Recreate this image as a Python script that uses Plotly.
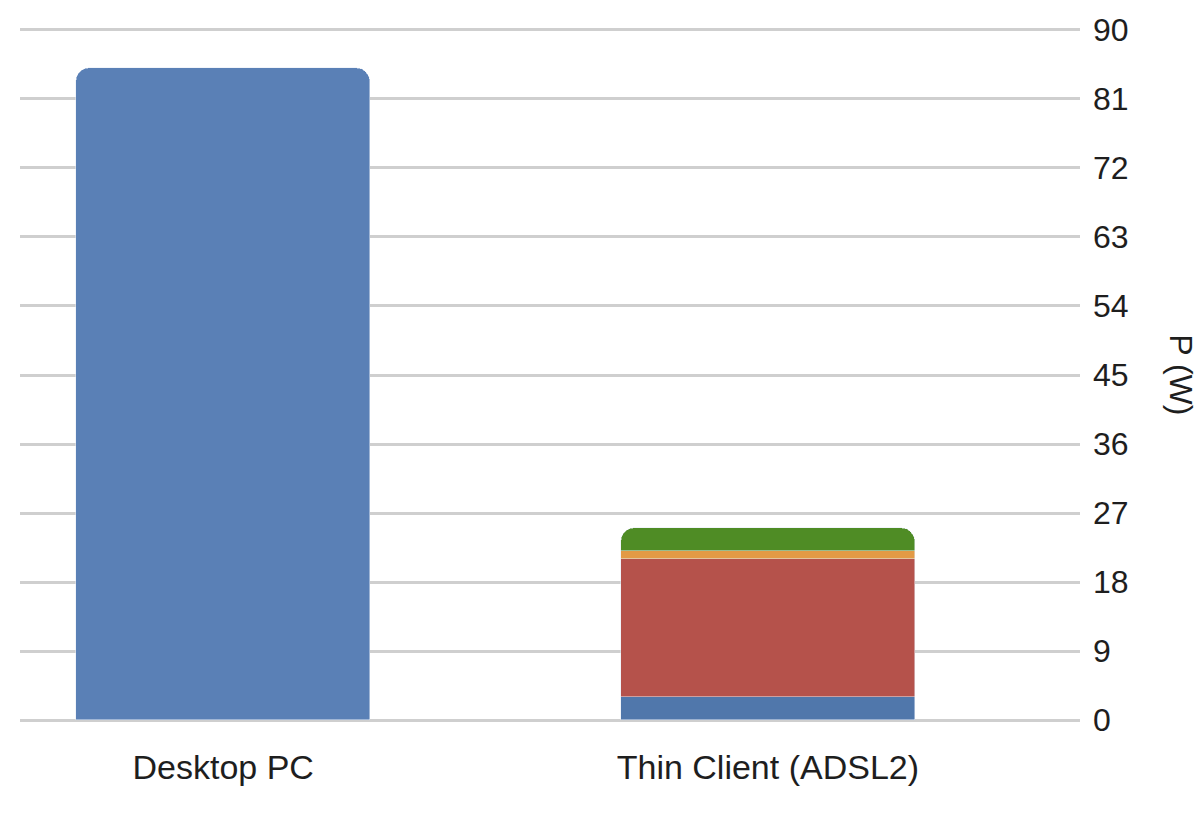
import plotly.graph_objects as go

categories = ["Desktop PC", "Thin Client (ADSL2)"]
desktop_power = [85, None]
thin_base = [None, 3]      # blue segment
thin_client = [None, 18]   # red segment
thin_orange = [None, 1]    # orange segment
thin_green = [None, 3]     # green segment
y_ticks = [0, 9, 18, 27, 36, 45, 54, 63, 72, 81, 90]

font_family = "Liberation Sans, Arial, sans-serif"

fig = go.Figure()
fig.add_trace(go.Bar(x=categories, y=desktop_power, marker_color="#5a80b6", name="Desktop PC"))
fig.add_trace(go.Bar(x=categories, y=thin_base, marker_color="#5077ab", name="Base"))
fig.add_trace(go.Bar(x=categories, y=thin_client, marker_color="#b5524b", name="Thin client"))
fig.add_trace(go.Bar(x=categories, y=thin_orange, marker_color="#e39a45", name="Orange"))
fig.add_trace(go.Bar(x=categories, y=thin_green, marker_color="#4f8c25", name="Green"))

fig.update_layout(
    width=1202, height=822,
    margin=dict(l=20, r=122, t=26, b=98),
    paper_bgcolor="white", plot_bgcolor="white",
    barmode="stack", bargap=0, barcornerradius=14,
    showlegend=False,
    font=dict(family=font_family, size=34, color="#1e1e1e"),
    xaxis=dict(
        type="category", range=[-0.373, 1.573],
        showgrid=False, zeroline=False, showline=False, ticks="",
        ticklabelstandoff=20, tickfont=dict(size=34, color="#1e1e1e"),
    ),
    yaxis=dict(
        side="right", range=[-0.5, 90.5], tickvals=y_ticks,
        showgrid=True, gridcolor="#cfcfcf", gridwidth=3,
        zeroline=False, showline=False, ticks="",
        ticklabelstandoff=12, tickfont=dict(size=32, color="#1e1e1e"),
    ),
    annotations=[dict(
        text="P (W)", textangle=90, xref="paper", yref="paper",
        x=1.095, y=0.5, xanchor="center", yanchor="middle",
        showarrow=False, font=dict(size=32, color="#1e1e1e"),
    )],
)
for tr in fig.data:
    tr.width = 0.54

fig.write_html("out.html")
